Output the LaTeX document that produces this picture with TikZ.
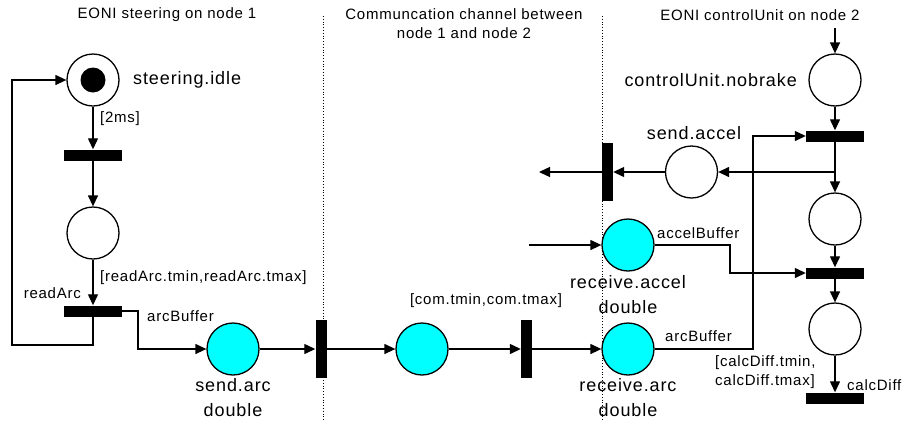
\documentclass[tikz,border=0pt]{standalone}
\usepackage{fontspec}
\setmainfont{Liberation Sans}[LetterSpace=5]
\usetikzlibrary{arrows.meta}
\definecolor{bufcyan}{RGB}{0,255,255}
\tikzset{
  place/.style={circle, draw, line width=1.3pt, minimum size=52pt, inner sep=0pt},
  cplace/.style={place, fill=bufcyan},
  hbar/.style={rectangle, fill=black, minimum width=58pt, minimum height=11pt, inner sep=0pt},
  vbar/.style={rectangle, fill=black, minimum width=11pt, minimum height=58pt, inner sep=0pt},
  arc/.style={line width=1.3pt, -{Triangle[length=11pt,width=10pt]}},
  big/.style={font=\fontsize{18}{25}\selectfont, inner sep=0pt},
  small/.style={font=\fontsize{15}{19}\selectfont, inner sep=0pt},
  divider/.style={line width=0.8pt, dotted}
}
\begin{document}
\begin{tikzpicture}[x=1pt, y=-1pt]
\useasboundingbox (0,0) rectangle (902,421);

% column dividers
\coordinate (d1t) at (323,16); \coordinate (d1b) at (323,421);
\coordinate (d2t) at (602,16); \coordinate (d2b) at (602,421);
\draw[divider] (d1t) -- (d1b);
\draw[divider] (d2t) -- (d2b);

% column titles
\node[small] (title1) at (167,15) {EONI steering on node 1};
\node[small, align=center] (title2) at (464,24) {Communcation channel between\\node 1 and node 2};
\node[small] (title3) at (760,15) {EONI controlUnit on node 2};

% steering on node 1
\node[place] (idle) at (93,80) {};
\fill (idle.center) circle (12.5pt);
\node[hbar] (t1) at (93,155) {};
\node[place] (p2) at (93,233) {};
\node[hbar] (tread) at (93,311) {};
\node[cplace] (sendarc) at (233,349) {};
\coordinate (loopL) at (12,345);
\coordinate (k1) at (138,311);

\draw[arc] (idle) -- (t1);
\draw[arc] (t1) -- (p2);
\draw[arc] (p2) -- (tread);
\draw[arc] (tread.south) |- (loopL) |- (idle.west);
\draw[arc] (tread.east) -- (k1) |- (sendarc.west);

\node[big, anchor=west] (lidle) at (133,80) {steering.idle};
\node[small, anchor=west] (l2ms) at (100,119) {[2ms]};
\node[small, anchor=west] (lread) at (100,278) {[readArc.tmin,readArc.tmax]};
\node[small, anchor=east] (lreadarc) at (81,293) {readArc};
\node[small, anchor=west] (larcbuf1) at (147,316) {arcBuffer};
\node[big, align=center] (lsendarc) at (233,397.5) {send.arc\\double};

% communication channel
\node[vbar] (tc1) at (321,349) {};
\node[cplace] (com) at (422,349) {};
\node[vbar] (tc2) at (526.5,349) {};
\node[small] (lcom) at (486,301) {[com.tmin,com.tmax]};
\draw[arc] (sendarc) -- (tc1);
\draw[arc] (tc1) -- (com);
\draw[arc] (com) -- (tc2);

% control unit on node 2
\node[cplace] (recarc) at (628,349) {};
\node[cplace] (recacc) at (628,245) {};
\node[place] (nobrake) at (835,80) {};
\node[hbar] (tA) at (835,136) {};
\node[place] (p3) at (835,219) {};
\node[place] (sendacc) at (691.5,172) {};
\node[vbar] (tsa) at (607.5,172) {};
\node[hbar] (tB) at (835,273) {};
\node[place] (p4) at (835,329) {};
\node[hbar] (tC) at (835,398) {};

\coordinate (topin) at (835,28);
\coordinate (accin) at (529,245);
\coordinate (accout) at (539,172);
\coordinate (br) at (835,172);
\coordinate (k2) at (753,136);
\coordinate (k3) at (730,273);

\draw[arc] (tc2) -- (recarc);
\draw[arc] (recarc.east) -| (k2) -- (tA.west);
\draw[arc] (accin) -- (recacc.west);
\draw[arc] (recacc.east) -| (k3) -- (tB.west);
\draw[arc] (topin) -- (nobrake);
\draw[arc] (nobrake) -- (tA);
\draw[arc] (tA) -- (p3);
\draw[arc] (br) -- (sendacc.east);
\draw[arc] (sendacc.west) -- (tsa.east);
\draw[arc] (tsa.west) -- (accout);
\draw[arc] (p3) -- (tB);
\draw[arc] (tB) -- (p4);
\draw[arc] (p4) -- (tC);

\node[big, align=center] (lrecarc) at (628,397.5) {receive.arc\\double};
\node[big, align=center] (lrecacc) at (628,294.5) {receive.accel\\double};
\node[small, anchor=west] (laccbuf) at (657,233) {accelBuffer};
\node[small, anchor=west] (larcbuf2) at (665,336) {arcBuffer};
\node[big, anchor=east] (lnobrake) at (797,80) {controlUnit.nobrake};
\node[big] (lsendacc) at (694,133) {send.accel};
\node[small, anchor=west, align=left] (lcalc) at (715,372.5) {[calcDiff.tmin,\\calcDiff.tmax]};
\node[small, anchor=west] (lcalcdiff) at (847,385) {calcDiff};
\end{tikzpicture}
\end{document}
